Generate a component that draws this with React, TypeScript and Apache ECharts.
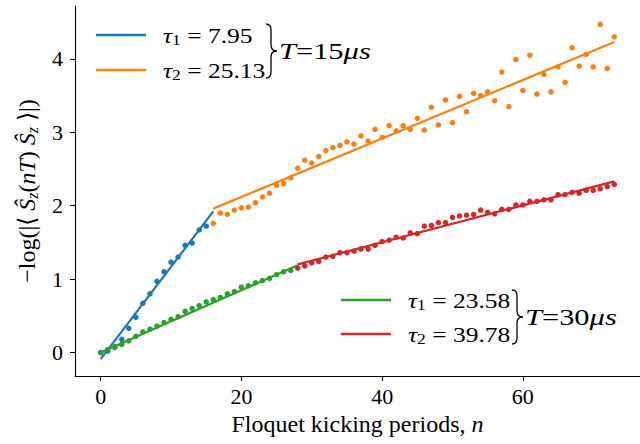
import React, { useEffect, useRef } from "react";
import * as echarts from "echarts";

// ---- data ----
const BLUE_START = 0;
const blueVals = [0.0, 0.02, 0.07, 0.18, 0.33, 0.48, 0.67, 0.8, 0.97, 1.1, 1.23, 1.3, 1.46, 1.49, 1.67, 1.72];

const ORANGE_START = 16;
const orangeVals = [
  1.76, 1.9, 1.88, 1.94, 1.97, 1.98, 2.04, 2.12, 2.17, 2.28, 2.3, 2.38, 2.51, 2.62, 2.58, 2.67,
  2.75, 2.79, 2.82, 2.87, 2.84, 2.95, 2.88, 3.04, 2.93, 3.09, 3.02, 3.09, 3.04, 3.19, 3.03, 3.34,
  3.1, 3.44, 3.13, 3.49, 3.28, 3.53, 3.5, 3.55, 3.43, 3.82, 3.35, 3.99, 3.57, 4.05, 3.52, 3.79,
  3.55, 3.89, 3.68, 4.15, 3.9, 4.06, 3.89, 4.47, 3.87, 4.3,
];

const GREEN_START = 0;
const greenVals = [
  0.0, 0.04, 0.08, 0.11, 0.16, 0.22, 0.28, 0.32, 0.36, 0.41, 0.45, 0.49, 0.56, 0.6, 0.64, 0.69,
  0.72, 0.75, 0.8, 0.83, 0.89, 0.91, 0.95, 0.98, 1.01, 1.06, 1.1, 1.12,
];

const RED_START = 28;
const redVals = [
  1.15, 1.18, 1.22, 1.24, 1.3, 1.31, 1.36, 1.36, 1.38, 1.41, 1.41, 1.46, 1.51, 1.53, 1.57, 1.56,
  1.63, 1.62, 1.72, 1.73, 1.77, 1.77, 1.84, 1.86, 1.87, 1.88, 1.94, 1.91, 1.89, 1.95, 1.95, 2.01,
  2.01, 2.06, 2.06, 2.08, 2.08, 2.15, 2.15, 2.18, 2.17, 2.21, 2.21, 2.23, 2.26, 2.29,
];

// fitted lines: y = y0 + (n - from) / tau
const fitTau = [7.95, 25.13, 23.58, 39.78];
const fitFrom = [0, 16, 0, 28];
const fitTo = [16, 73, 28, 73];
const fitY0 = [-0.09, 1.96, 0.0, 1.2];
const fitLabels = ["7.95", "25.13", "23.58", "39.78"];
const fitSub = ["1", "2", "1", "2"];
const periodLabels = ["15", "30"];

const xTicks = [0, 20, 40, 60];
const yTicks = [0, 1, 2, 3, 4];

const COLORS = ["#1f77b4", "#ff7f0e", "#2ca02c", "#d62728"];
const FONT = "Liberation Serif";

const pts = (start: number, vals: number[]) => vals.map((v, i) => [start + i, v]);

const BRACE_D =
  "M0,0 C4,0 5,2 5,6 L5,21 C5,25 7,27 11,27 C7,27 5,29 5,33 L5,48 C5,52 4,54 0,54";

let braceRegistered = false;

export default function App() {
  const ref = useRef<HTMLDivElement>(null);

  useEffect(() => {
    if (!ref.current) return;
    if (!braceRegistered) {
      echarts.graphic.registerShape("brace", echarts.graphic.extendPath(BRACE_D, {}));
      braceRegistered = true;
    }
    const chart = echarts.init(ref.current, null, { renderer: "svg" });

    const scatterSets = [
      pts(BLUE_START, blueVals),
      pts(ORANGE_START, orangeVals),
      pts(GREEN_START, greenVals),
      pts(RED_START, redVals),
    ];

    const series: any[] = [];
    for (let k = 0; k < 4; k++) {
      series.push({
        type: "scatter",
        data: scatterSets[k],
        symbolSize: 5.5,
        itemStyle: { color: COLORS[k], opacity: 1 },
        z: 2 + k * 2,
      });
      series.push({
        type: "line",
        name: `τ${fitSub[k]} = ${fitLabels[k]}`,
        data: [
          [fitFrom[k], fitY0[k]],
          [fitTo[k], fitY0[k] + (fitTo[k] - fitFrom[k]) / fitTau[k]],
        ],
        symbol: "none",
        showSymbol: false,
        lineStyle: { color: COLORS[k], width: 2.2 },
        z: 3 + k * 2,
      });
    }

    const richLegend = {
      i: { fontFamily: FONT, fontStyle: "italic", fontSize: 22, color: "#000" },
      s: { fontFamily: FONT, fontSize: 15, color: "#000", padding: [9, 0, 0, 0] },
      r: { fontFamily: FONT, fontSize: 22, color: "#000" },
    };
    const richT = {
      i: { fontFamily: FONT, fontStyle: "italic", fontSize: 24, color: "#000" },
      r: { fontFamily: FONT, fontSize: 24, color: "#000" },
    };

    const legendBlock = (k: number, lx: number, ly: number, tx: number) => [
      {
        type: "line",
        shape: { x1: lx, y1: ly, x2: lx + 50, y2: ly },
        style: { stroke: COLORS[k], lineWidth: 2.5 },
      },
      {
        type: "text",
        x: tx,
        y: ly + 1,
        scaleX: 1.16,
        style: {
          text: `{i|τ}{s|${fitSub[k]}}{r| = ${fitLabels[k]}}`,
          rich: richLegend,
          verticalAlign: "middle",
          align: "left",
        },
      },
    ];

    const periodBlock = (p: number, bx: number, by: number) => [
      {
        type: "brace",
        x: bx,
        y: by,
        style: { stroke: "#000", fill: "none", lineWidth: 1.3 },
      },
      {
        type: "text",
        x: bx + 13,
        y: by + 27,
        scaleX: 1.27,
        style: {
          text: `{i|T}{r|=${periodLabels[p]}}{i|μs}`,
          rich: richT,
          verticalAlign: "middle",
          align: "left",
        },
      },
    ];

    chart.setOption({
      animation: false,
      backgroundColor: "#fff",
      grid: { left: 75, top: 6, width: 571, height: 370, containLabel: false },
      xAxis: {
        type: "value",
        min: -3.65,
        max: 76.65,
        axisLine: { show: true, onZero: false, lineStyle: { color: "#000", width: 1.1 } },
        axisTick: { show: true, length: 5, customValues: xTicks, lineStyle: { color: "#000", width: 1.1 } },
        axisLabel: { customValues: xTicks, margin: 9, fontSize: 22, fontFamily: FONT, color: "#000" },
        splitLine: { show: false },
        name: "{r|Floquet kicking periods, }{i|n}",
        nameLocation: "middle",
        nameGap: 35,
        nameTextStyle: {
          fontFamily: FONT,
          fontSize: 24,
          color: "#000",
          rich: {
            r: { fontFamily: FONT, fontSize: 24, color: "#000" },
            i: { fontFamily: FONT, fontSize: 24, fontStyle: "italic", color: "#000" },
          },
        },
      },
      yAxis: {
        type: "value",
        min: -0.32,
        max: 4.72,
        axisLine: { show: true, onZero: false, lineStyle: { color: "#000", width: 1.1 } },
        axisTick: { show: true, length: 5, customValues: yTicks, lineStyle: { color: "#000", width: 1.1 } },
        axisLabel: { customValues: yTicks, margin: 12, fontSize: 22, fontFamily: FONT, color: "#000" },
        splitLine: { show: false },
        name: "{r|−log(|⟨ }{i|Ŝ}{s|z}{r|(}{i|nT}{r|) }{i|Ŝ}{s|z}{r| ⟩|)}",
        nameLocation: "middle",
        nameRotate: 90,
        nameGap: 35,
        nameTextStyle: {
          fontFamily: FONT,
          fontSize: 24,
          color: "#000",
          rich: {
            r: { fontFamily: FONT, fontSize: 24, color: "#000" },
            i: { fontFamily: FONT, fontSize: 24, fontStyle: "italic", color: "#000" },
            s: { fontFamily: FONT, fontSize: 16, fontStyle: "italic", color: "#000", padding: [10, 0, 0, 0] },
          },
        },
      },
      graphic: [
        ...legendBlock(0, 96, 35, 163),
        ...legendBlock(1, 96, 70, 163),
        ...periodBlock(0, 266, 24),
        ...legendBlock(2, 341, 300, 408),
        ...legendBlock(3, 341, 334, 408),
        ...periodBlock(1, 512, 290),
      ],
      series,
    });

    return () => chart.dispose();
  }, []);

  return (
    <div
      ref={ref}
      style={{ position: "fixed", left: 0, top: 0, width: 640, height: 444, background: "#fff" }}
    />
  );
}
